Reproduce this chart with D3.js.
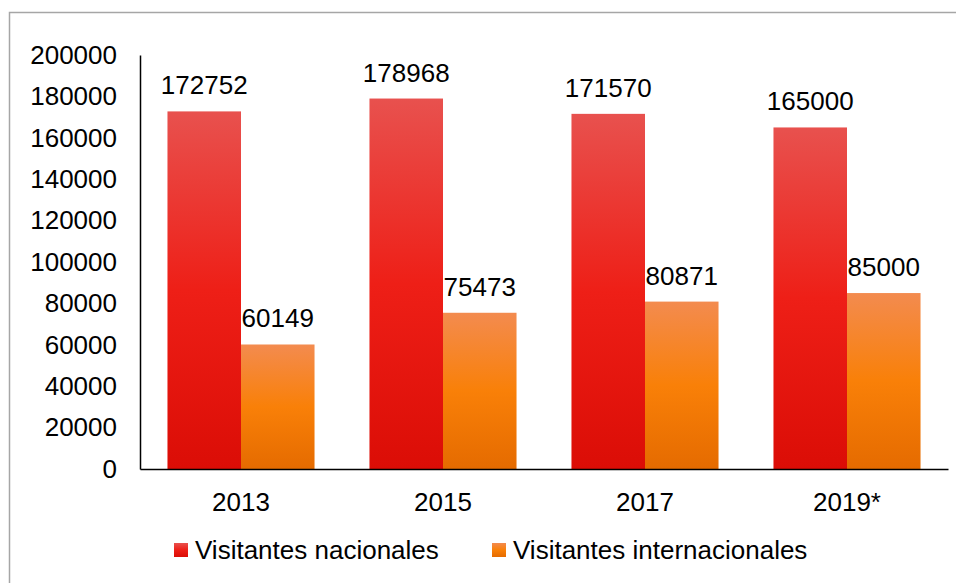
<!DOCTYPE html>
<html>
<head>
<meta charset="utf-8">
<script src="https://cdn.jsdelivr.net/npm/d3@7"></script>
<style>
  body { margin: 0; background: #fff; }
  text { font-family: "Liberation Sans", Arial, sans-serif; fill: #000; }
</style>
</head>
<body>
<svg id="chart" width="956" height="583"></svg>
<script>
var years = ["2013", "2015", "2017", "2019*"]
var nacionales = [172752, 178968, 171570, 165000]
var internacionales = [60149, 75473, 80871, 85000]
var seriesNames = ["Visitantes nacionales", "Visitantes internacionales"]
var yTicks = [0, 20000, 40000, 60000, 80000, 100000, 120000, 140000, 160000, 180000, 200000]

var svg = d3.select("#chart")

// outer frame (right and bottom edges run off the picture)
svg.append("rect")
  .attr("x", 9.5).attr("y", 12.5)
  .attr("width", 1000).attr("height", 1000)
  .attr("fill", "none")
  .attr("stroke", "#a6a6a6")
  .attr("stroke-width", 1.5)

var plotLeft = 140, plotRight = 948, plotTop = 55, plotBottom = 469

var x = d3.scaleBand().domain(years).range([plotLeft, plotRight])
  .paddingInner(0.272).paddingOuter(0.136)
var xs = d3.scaleBand().domain([0, 1]).range([0, x.bandwidth()])
var y = d3.scaleLinear().domain([0, 200000]).range([plotBottom, plotTop])

var defs = svg.append("defs")
function grad(id, stops) {
  var g = defs.append("linearGradient").attr("id", id)
    .attr("x1", 0).attr("y1", 0).attr("x2", 0).attr("y2", 1)
  stops.forEach(function (s) {
    g.append("stop").attr("offset", s[0]).attr("stop-color", s[1])
  })
}
grad("gRed", [[0, "#e8514e"], [0.5, "#ee1f17"], [1, "#db0d06"]])
grad("gOrange", [[0, "#f38b4f"], [0.5, "#f98008"], [1, "#e56b00"]])
var fills = ["url(#gRed)", "url(#gOrange)"]

var rows = years.map(function (yr, i) {
  return { year: yr, vals: [nacionales[i], internacionales[i]] }
})

var groups = svg.selectAll("g.cat").data(rows).enter().append("g")
  .attr("class", "cat")
  .attr("transform", function (d) { return "translate(" + x(d.year) + ",0)" })

groups.selectAll("rect").data(function (d) { return d.vals }).enter().append("rect")
  .attr("x", function (d, i) { return xs(i) })
  .attr("y", function (d) { return y(d) })
  .attr("width", xs.bandwidth())
  .attr("height", function (d) { return plotBottom - y(d) })
  .attr("fill", function (d, i) { return fills[i] })

groups.selectAll("text.val").data(function (d) { return d.vals }).enter().append("text")
  .attr("class", "val")
  .attr("x", function (d, i) { return xs(i) + xs.bandwidth() / 2 })
  .attr("y", function (d) { return y(d) - 17 })
  .attr("text-anchor", "middle")
  .style("font-size", "26px")
  .text(function (d) { return d })

// y axis
var yAxis = svg.append("g")
  .attr("transform", "translate(" + plotLeft + ",0)")
  .call(d3.axisLeft(y).tickValues(yTicks).tickSize(0).tickPadding(23).tickFormat(d3.format("d")))
yAxis.select(".domain").attr("stroke", "#000").attr("stroke-width", 1.5)
yAxis.selectAll("text").style("font-size", "26px").attr("font-family", null)

// x axis
var xAxis = svg.append("g")
  .attr("transform", "translate(0," + plotBottom + ")")
  .call(d3.axisBottom(x).tickSize(0).tickPadding(24))
xAxis.select(".domain").attr("stroke", "#000").attr("stroke-width", 1.5)
xAxis.selectAll("text").style("font-size", "26px").attr("font-family", null)

// legend
var legendX = [174, 492]
var legend = svg.selectAll("g.leg").data(seriesNames).enter().append("g")
  .attr("class", "leg")
  .attr("transform", function (d, i) { return "translate(" + legendX[i] + ",543)" })
legend.append("rect").attr("width", 14).attr("height", 14)
  .attr("fill", function (d, i) { return fills[i] })
legend.append("text").attr("x", 21).attr("y", 16)
  .style("font-size", "26px")
  .text(function (d) { return d })
</script>
</body>
</html>
